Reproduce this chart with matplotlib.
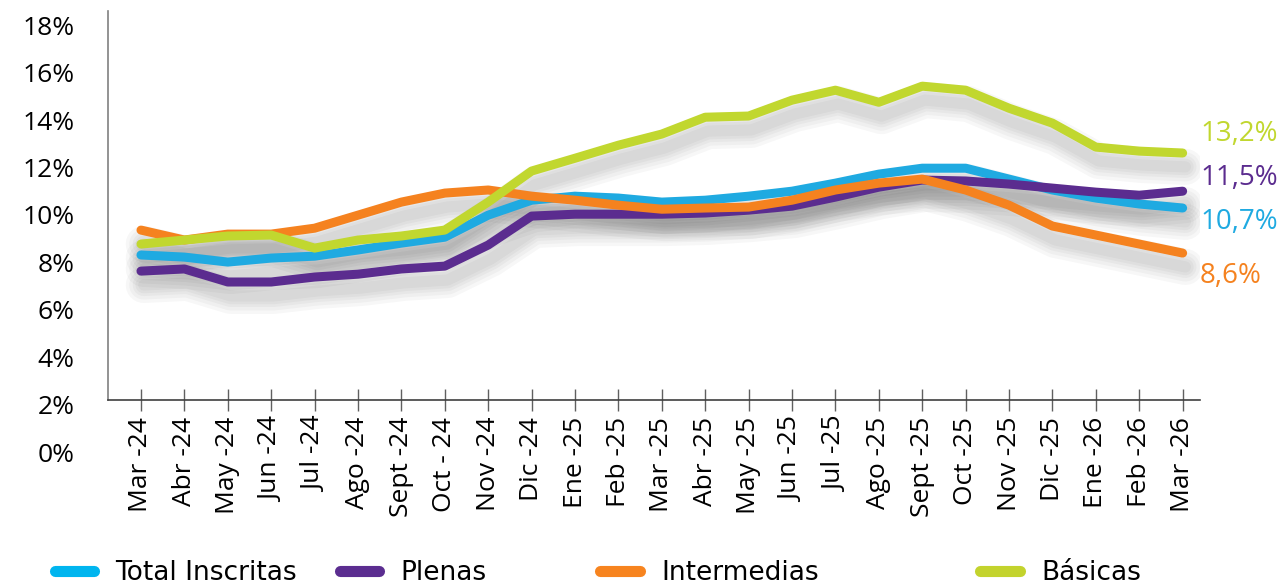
import numpy as np
import matplotlib
matplotlib.use("Agg")
import matplotlib.pyplot as plt
import matplotlib.patheffects as pe
from matplotlib.lines import Line2D

# categorias (meses)
meses = ["Mar -24", "Abr -24", "May -24", "Jun -24", "Jul -24", "Ago -24", "Sept -24",
         "Oct - 24", "Nov -24", "Dic -24", "Ene -25", "Feb -25", "Mar -25", "Abr -25",
         "May -25", "Jun -25", "Jul -25", "Ago -25", "Sept -25", "Oct -25", "Nov -25",
         "Dic -25", "Ene -26", "Feb -26", "Mar -26"]

total = [8.31, 8.22, 8.01, 8.18, 8.26, 8.52, 8.81, 9.06, 9.99, 10.62, 10.79, 10.71, 10.54,
         10.62, 10.79, 11.00, 11.34, 11.72, 11.97, 11.97, 11.51, 11.05, 10.71, 10.46, 10.29]
plenas = [7.63, 7.72, 7.17, 7.17, 7.38, 7.50, 7.72, 7.84, 8.73, 9.95, 10.03, 10.03, 10.03,
          10.08, 10.20, 10.37, 10.75, 11.17, 11.47, 11.43, 11.30, 11.13, 10.96, 10.83, 11.00]
intermedias = [9.36, 8.94, 9.19, 9.19, 9.44, 9.99, 10.54, 10.92, 11.05, 10.79, 10.62, 10.41, 10.24,
               10.29, 10.33, 10.62, 11.05, 11.34, 11.51, 11.05, 10.41, 9.53, 9.15, 8.77, 8.39]
basicas = [8.77, 8.94, 9.11, 9.15, 8.60, 8.94, 9.11, 9.36, 10.54, 11.85, 12.39, 12.94, 13.41,
           14.12, 14.17, 14.84, 15.26, 14.75, 15.43, 15.26, 14.50, 13.87, 12.86, 12.69, 12.61]

series_names = ["Total Inscritas", "Plenas", "Intermedias", "Básicas"]
end_labels = ["10,7%", "11,5%", "8,6%", "13,2%"]
yticks = [0, 2, 4, 6, 8, 10, 12, 14, 16, 18]

colores = ["#1FAAE1", "#5B2C8F", "#F5821F", "#C1D72F"]
colores_ley = ["#00B5EF", "#5B2D90", "#F7841F", "#C3D32D"]

plt.rcParams['font.family'] = ['Open Sans', 'DejaVu Sans']

fig = plt.figure(figsize=(12.84, 5.85), dpi=100)
ax = fig.add_axes([108 / 1284, (585 - 452) / 585, 1092 / 1284, 441 / 585])

x = np.arange(len(meses))
datos = [total, plenas, intermedias, basicas]

# sombras primero
for d in datos:
    sombras = [pe.SimpleLineShadow(offset=(2, -10), shadow_color='black', alpha=0.03, linewidth=lw)
               for lw in (26, 21, 16, 12, 8)]
    ax.plot(x, d, color='none', lw=6.5, zorder=1, path_effects=sombras,
            solid_capstyle='round', solid_joinstyle='round')

for d, c in zip(datos, colores):
    ax.plot(x, d, color=c, lw=6.5, zorder=2, solid_capstyle='round', solid_joinstyle='round')

# etiquetas finales
label_y = [9.7, 11.55, 7.42, 13.4]
for lab, ly, c in zip(end_labels, label_y, colores):
    ax.text(24.4, ly, lab, color=c, fontsize=20, ha='left', va='center', clip_on=False)

ax.set_xlim(-0.76, 24.4)
ax.set_ylim(0, 18.6)
eje_y = (452 - 400) / 23.72
ax.spines['top'].set_visible(False)
ax.spines['right'].set_visible(False)
ax.spines['bottom'].set_position(('data', eje_y))
ax.spines['left'].set_bounds(eje_y, 18.6)
ax.spines['left'].set_color('#808080')
ax.spines['bottom'].set_color('#404040')
ax.spines['left'].set_linewidth(1.2)
ax.spines['bottom'].set_linewidth(1.2)

ax.set_xticks(x)
ax.set_xticklabels(meses, rotation=90, fontsize=19)
ax.tick_params(axis='x', direction='inout', length=16, width=1, color='#606060', pad=4)
ax.set_yticks(yticks)
ax.set_yticklabels([f"{v}%" for v in yticks], fontsize=19)
ax.tick_params(axis='y', length=0, pad=24)
ax.patch.set_visible(False)

# leyenda
pos_ley = [0.024, 0.246, 0.449, 0.745]
for nombre, c, px in zip(series_names, colores_ley, pos_ley):
    h = Line2D([], [], color=c, lw=8, solid_capstyle='round')
    fig.legend([h], [nombre], loc='lower left', bbox_to_anchor=(px, -0.042),
               frameon=False, handlelength=1.5, handletextpad=0.8,
               prop={'family': ['DejaVu Sans'], 'size': 19})

fig.savefig("out.png", dpi=100)
